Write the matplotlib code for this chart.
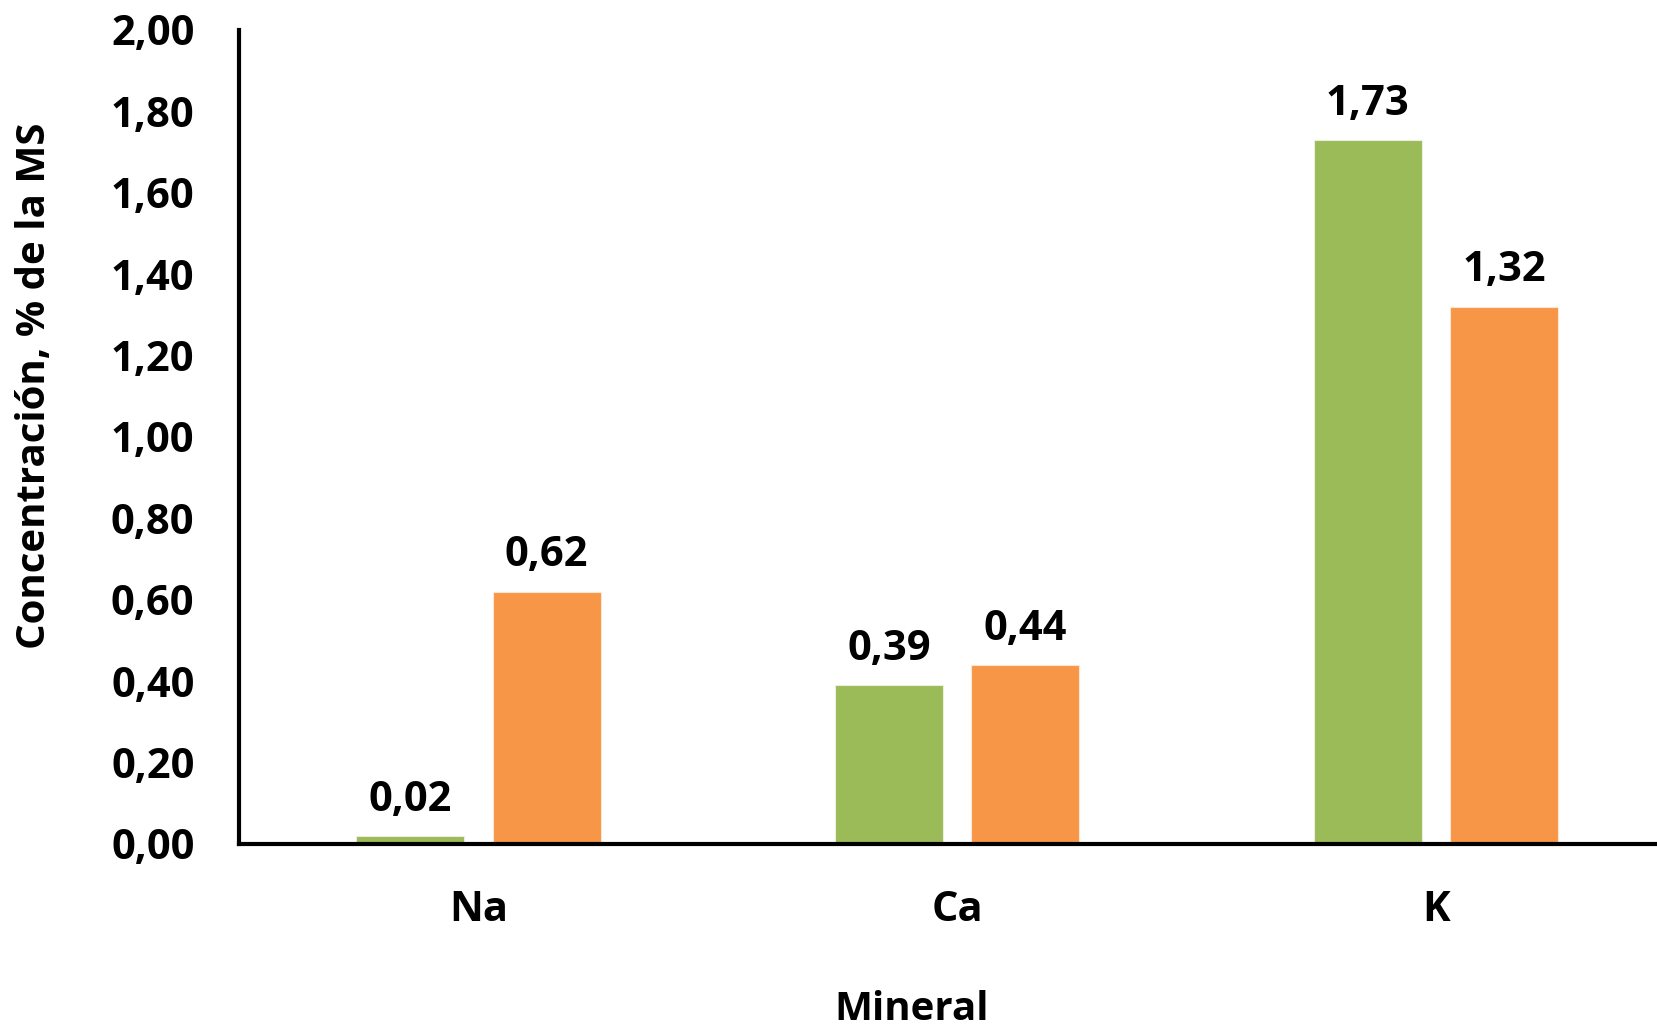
import matplotlib
matplotlib.use("Agg")
import matplotlib.pyplot as plt
import numpy as np

# Mineral concentrations (% of dry matter) for two samples
minerals = ["Na", "Ca", "K"]
serie_verde = [0.02, 0.39, 1.73]
serie_naranja = [0.62, 0.44, 1.32]
y_ticks = [0.0, 0.2, 0.4, 0.6, 0.8, 1.0, 1.2, 1.4, 1.6, 1.8, 2.0]

VERDE = "#9BBB59"
NARANJA = "#F79646"

plt.rcParams["font.family"] = ["Open Sans", "DejaVu Sans"]
plt.rcParams["font.weight"] = "bold"

fig = plt.figure(figsize=(16.57, 10.26), dpi=100)
ax = fig.add_axes([0.1442, 0.1774, 0.867, 0.7934])

x = np.arange(len(minerals))
w = 0.2255
off = 0.1425
b1 = ax.bar(x - off, serie_verde, width=w, color=VERDE, edgecolor="#e9f0dc", linewidth=0.8)
b2 = ax.bar(x + off, serie_naranja, width=w, color=NARANJA, edgecolor="#fce6d4", linewidth=0.8)

def fmt(v):
    return f"{v:.2f}".replace(".", ",")

FS = 30

for bars, vals in ((b1, serie_verde), (b2, serie_naranja)):
    for rect, v in zip(bars, vals):
        ax.annotate(fmt(v), (rect.get_x() + rect.get_width() / 2, v),
                    xytext=(0, 11), textcoords="offset points",
                    ha="center", va="bottom", fontsize=FS, fontweight="bold")

ax.set_xlim(-0.5, 2.5)
ax.set_ylim(0, 2.0)
ax.set_yticks(y_ticks)
ax.set_yticklabels([fmt(t) for t in y_ticks], fontsize=FS, fontweight="bold")
ax.set_xticks(x)
ax.set_xticklabels(minerals, fontsize=FS, fontweight="bold")
ax.tick_params(axis="both", length=0)
ax.tick_params(axis="y", pad=32)
ax.tick_params(axis="x", pad=33)

for s in ("top", "right"):
    ax.spines[s].set_visible(False)
for s in ("left", "bottom"):
    ax.spines[s].set_linewidth(3)
    ax.spines[s].set_color("black")

fig.text(0.550, 0.016, "Mineral", ha="center", va="center", fontsize=29, fontweight="bold")
fig.text(0.021, 0.624, "Concentración, % de la MS", rotation=90, ha="center", va="center",
         fontsize=29, fontweight="bold")

fig.savefig("out.png", dpi=100)
